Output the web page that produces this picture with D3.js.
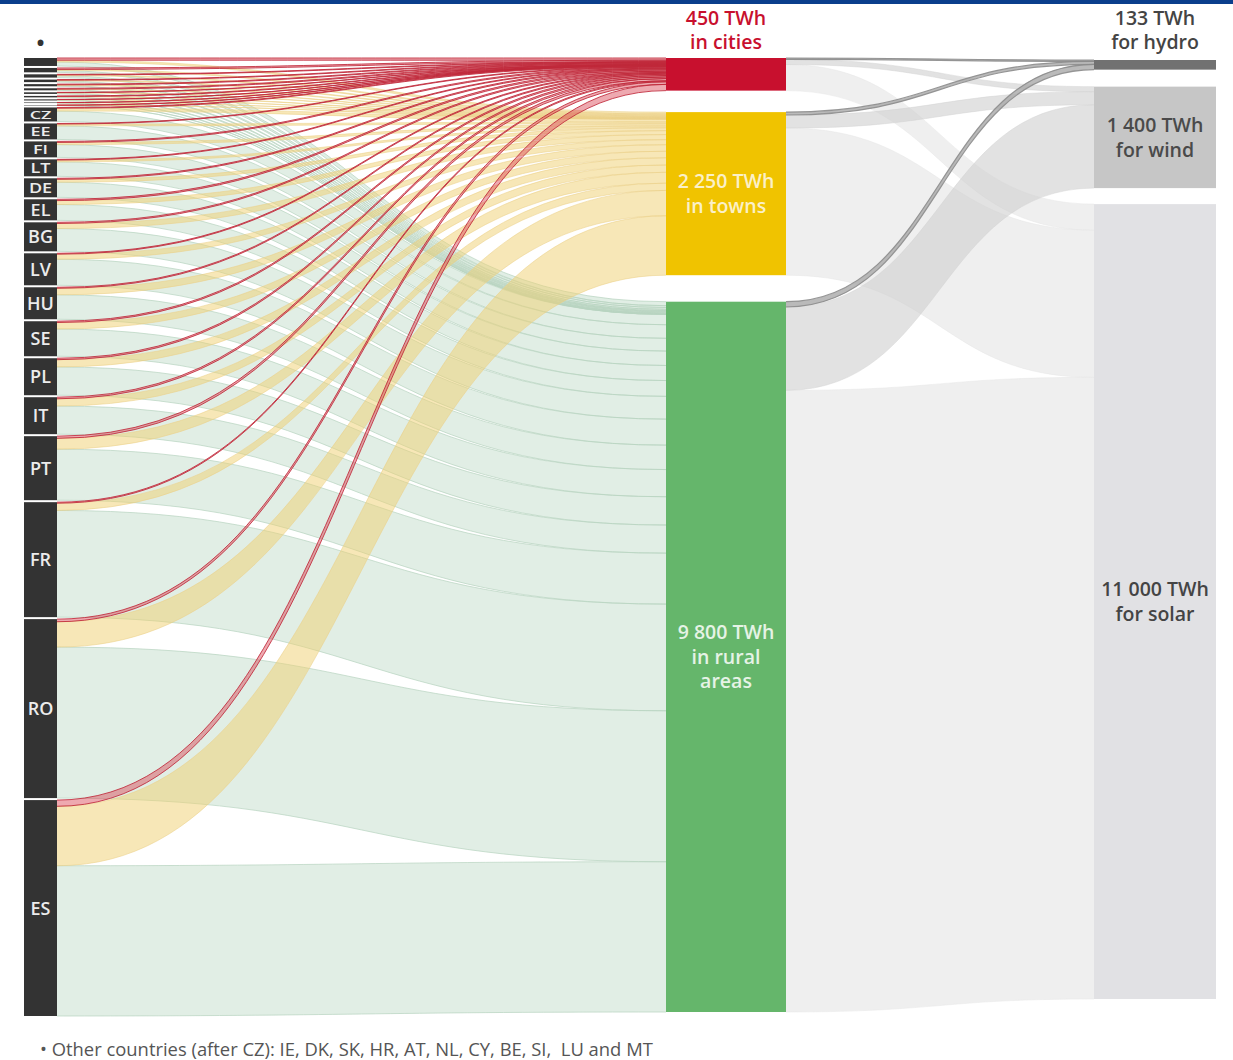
<!DOCTYPE html>
<html>
<head>
<meta charset="utf-8">
<script src="https://cdn.jsdelivr.net/npm/d3@7"></script>
<style>
  body { margin: 0; background: #fff; }
  text { font-family: "Open Sans", "Noto Sans", sans-serif; white-space: pre; }
</style>
</head>
<body>
<div id="chart"></div>
<script>
// left column, top to bottom (first 11 are the unlabelled "other countries")
const countries = ["IE","DK","SK","HR","AT","NL","CY","BE","SI","LU","MT",
  "CZ","EE","FI","LT","DE","EL","BG","LV","HU","SE","PL","IT","PT","FR","RO","ES"];
const unlabelled = ["IE","DK","SK","HR","AT","NL","CY","BE","SI","LU","MT"];
// TWh per country going to each area type
const toCities = [30,20,8,8,10,12,4,8,3,2,3,
  10,8,14,10,14,18,16,12,14,18,20,22,30,14,36,86];
const toTowns = [25,15,12,10,10,6,5,5,4,2,2,
  40,25,30,25,40,54,70,70,90,90,100,100,150,100,350,820];
const toRural = [55,25,25,17,10,10,13,7,8,4,1,
  143,187,176,199,208,218,314,359,337,375,390,388,703,1472,2083,2073];

// middle column
const areas = ["cities","towns","rural"];
const areaColors = ["#c8102e","#f0c300","#65b66b"];
const areaLabels = [["450 TWh","in cities"],["2 250 TWh","in towns"],["9 800 TWh","in rural","areas"]];

// right column, and flows from each area to it
const techs = ["hydro","wind","solar"];
const techColors = ["#717171","#c6c6c6","#e1e1e4"];
const techLabels = [["133 TWh","for hydro"],["1 400 TWh","for wind"],["11 000 TWh","for solar"]];
const toHydro = [20, 40, 73];
const toWind = [70, 180, 1150];
const toSolar = [360, 2030, 8577];

const footnote = "• Other countries (after CZ): IE, DK, SK, HR, AT, NL, CY, BE, SI,  LU and MT";

const W = 1233, H = 1060;
const svg = d3.select("#chart").append("svg")
    .attr("width", W)
    .attr("height", H);

svg.append("rect")
    .attr("x", 0).attr("y", 0)
    .attr("width", W).attr("height", 4)
    .attr("fill", "#0a3e8c");

// layout
const yTop = 58, yBottom = 1016, countryGap = 2;
const total = d3.sum(countries, (c, i) => toCities[i] + toTowns[i] + toRural[i]);
const k = (yBottom - yTop - countryGap * (countries.length - 1)) / total;
const h = d3.scaleLinear().domain([0, total]).range([0, total * k]);
const colX = d3.scaleOrdinal().domain(["left","mid","right"]).range([[24, 57], [666, 786], [1094, 1216]]);
const midGaps = [21.5, 26.5];
const rightGaps = [17, 16];

const flows = [toCities, toTowns, toRural];
const techFlows = [toHydro, toWind, toSolar];

// left nodes
let y = yTop;
const leftNodes = countries.map((c, i) => {
  const v = toCities[i] + toTowns[i] + toRural[i];
  const n = { name: c, y0: y, y1: y + h(v) };
  y = n.y1 + countryGap;
  return n;
});

// middle nodes
y = yTop;
const midNodes = areas.map((a, j) => {
  const v = d3.sum(flows[j]);
  const n = { name: a, y0: y, y1: y + h(v) };
  y = n.y1 + (midGaps[j] || 0);
  return n;
});

// right nodes
y = 60;
const rightNodes = techs.map((t, s) => {
  const v = d3.sum(techFlows[s]);
  const n = { name: t, y0: y, y1: y + h(v) };
  y = n.y1 + (rightGaps[s] || 0);
  return n;
});

// links left -> middle
const links1 = [];
const srcOff = leftNodes.map(n => n.y0);
const tgtOff = midNodes.map(n => n.y0);
countries.forEach((c, i) => {
  areas.forEach((a, j) => {
    const w = h(flows[j][i]);
    links1.push({ area: j, sy0: srcOff[i], sy1: srcOff[i] + w, ty0: tgtOff[j], ty1: tgtOff[j] + w });
    srcOff[i] += w;
    tgtOff[j] += w;
  });
});

// links middle -> right
const links2 = [];
const mOff = midNodes.map(n => n.y0);
const rOff = rightNodes.map(n => n.y0);
areas.forEach((a, j) => {
  techs.forEach((t, s) => {
    const w = h(techFlows[s][j]);
    links2.push({ tech: s, sy0: mOff[j], sy1: mOff[j] + w, ty0: rOff[s], ty1: rOff[s] + w });
    mOff[j] += w;
    rOff[s] += w;
  });
});

function band(x0, x1, l) {
  const xm = (x0 + x1) / 2;
  const p = d3.path();
  p.moveTo(x0, l.sy0);
  p.bezierCurveTo(xm, l.sy0, xm, l.ty0, x1, l.ty0);
  p.lineTo(x1, l.ty1);
  p.bezierCurveTo(xm, l.ty1, xm, l.sy1, x0, l.sy1);
  p.closePath();
  return p.toString();
}
function edges(x0, x1, l) {
  const lk = d3.linkHorizontal();
  return lk({ source: [x0, l.sy0], target: [x1, l.ty0] }) + lk({ source: [x0, l.sy1], target: [x1, l.ty1] });
}

const linkStyle1 = [
  { fill: "#d9414f", op: 0.45, stroke: "#c0283a", sw: 1, sop: 0.85 },
  { fill: "#f0d070", op: 0.5, stroke: "#ecd089", sw: 0.8, sop: 0.7 },
  { fill: "#dcebe1", op: 0.85, stroke: "#b8d4c0", sw: 0.9, sop: 0.8 }
];
const L = colX("left")[1], M0 = colX("mid")[0], M1 = colX("mid")[1], R = colX("right")[0];

// draw rural first, then towns, then cities on top
[2, 1, 0].forEach(j => {
  const st = linkStyle1[j];
  const g = svg.append("g");
  const ls = links1.filter(l => l.area === j && l.sy1 > l.sy0);
  g.selectAll("path.band").data(ls).enter().append("path")
      .attr("class", "band")
      .attr("d", l => band(L, M0, l))
      .attr("fill", st.fill)
      .attr("fill-opacity", st.op);
  g.selectAll("path.edge").data(ls).enter().append("path")
      .attr("class", "edge")
      .attr("d", l => edges(L, M0, l))
      .attr("fill", "none")
      .attr("stroke", st.stroke)
      .attr("stroke-width", st.sw)
      .attr("stroke-opacity", st.sop);
});

const linkStyle2 = [
  { fill: "#a9a9a9", op: 0.8, stroke: "#8c8c8c", sw: 1.2, sop: 0.9 },
  { fill: "#cfcfcf", op: 0.6, stroke: "#d2d2d2", sw: 0.6, sop: 0.8 },
  { fill: "#eeeeee", op: 0.95, stroke: "#e6e6e6", sw: 0.6, sop: 0.8 }
];
[2, 1, 0].forEach(s => {
  const st = linkStyle2[s];
  const g = svg.append("g");
  const ls = links2.filter(l => l.tech === s);
  g.selectAll("path.band").data(ls).enter().append("path")
      .attr("class", "band")
      .attr("d", l => band(M1, R, l))
      .attr("fill", st.fill)
      .attr("fill-opacity", st.op);
  g.selectAll("path.edge").data(ls).enter().append("path")
      .attr("class", "edge")
      .attr("d", l => edges(M1, R, l))
      .attr("fill", "none")
      .attr("stroke", st.stroke)
      .attr("stroke-width", st.sw)
      .attr("stroke-opacity", st.sop);
});

// nodes
svg.append("g").selectAll("rect").data(leftNodes).enter().append("rect")
    .attr("x", colX("left")[0])
    .attr("y", d => d.y0)
    .attr("width", colX("left")[1] - colX("left")[0])
    .attr("height", d => d.y1 - d.y0)
    .attr("fill", "#333");

svg.append("g").selectAll("rect").data(midNodes).enter().append("rect")
    .attr("x", M0)
    .attr("y", d => d.y0)
    .attr("width", M1 - M0)
    .attr("height", d => d.y1 - d.y0)
    .attr("fill", (d, j) => areaColors[j]);

svg.append("g").selectAll("rect").data(rightNodes).enter().append("rect")
    .attr("x", R)
    .attr("y", d => d.y0)
    .attr("width", colX("right")[1] - R)
    .attr("height", d => d.y1 - d.y0)
    .attr("fill", (d, s) => techColors[s]);

// country labels, squeezed vertically in the thin nodes
const lx = (colX("left")[0] + colX("left")[1]) / 2;
svg.append("g").selectAll("text")
    .data(leftNodes.filter(n => !unlabelled.includes(n.name)))
    .enter().append("text")
    .attr("transform", d => {
      const sy = Math.min(1, (d.y1 - d.y0 + 1.5) / 24.5);
      return "translate(" + lx + "," + ((d.y0 + d.y1) / 2) + ") scale(1," + sy + ")";
    })
    .attr("text-anchor", "middle")
    .attr("dy", "0.36em")
    .attr("font-size", 18)
    .attr("font-weight", 600)
    .attr("fill", "#ececec")
    .text(d => d.name);

svg.append("text")
    .attr("x", lx).attr("y", 53)
    .attr("text-anchor", "middle")
    .attr("font-size", 28)
    .attr("fill", "#333")
    .text("•");

// middle / right labels
function nodeLabel(lines, cx, cy, color) {
  const t = svg.append("text")
      .attr("text-anchor", "middle")
      .attr("font-size", 19.5)
      .attr("font-weight", 600)
      .attr("fill", color);
  const n = lines.length;
  lines.forEach((s, i) => {
    t.append("tspan")
        .attr("x", cx)
        .attr("y", cy + (i - (n - 1) / 2) * 24.5 + 7)
        .text(s);
  });
}
const mx = (M0 + M1) / 2, rx = (R + colX("right")[1]) / 2;
nodeLabel(areaLabels[0], mx, midNodes[0].y0 - 28, "#c8102e");
nodeLabel(areaLabels[1], mx, (midNodes[1].y0 + midNodes[1].y1) / 2, "#fbf0c8");
nodeLabel(areaLabels[2], mx, (midNodes[2].y0 + midNodes[2].y1) / 2, "#e6f3e6");
nodeLabel(techLabels[0], rx, rightNodes[0].y0 - 30, "#444");
nodeLabel(techLabels[1], rx, (rightNodes[1].y0 + rightNodes[1].y1) / 2, "#4a4a4a");
nodeLabel(techLabels[2], rx, (rightNodes[2].y0 + rightNodes[2].y1) / 2, "#444");

svg.append("text")
    .attr("x", 40).attr("y", 1056)
    .attr("font-size", 18.4)
    .attr("fill", "#555")
    .text(footnote);
</script>
</body>
</html>
